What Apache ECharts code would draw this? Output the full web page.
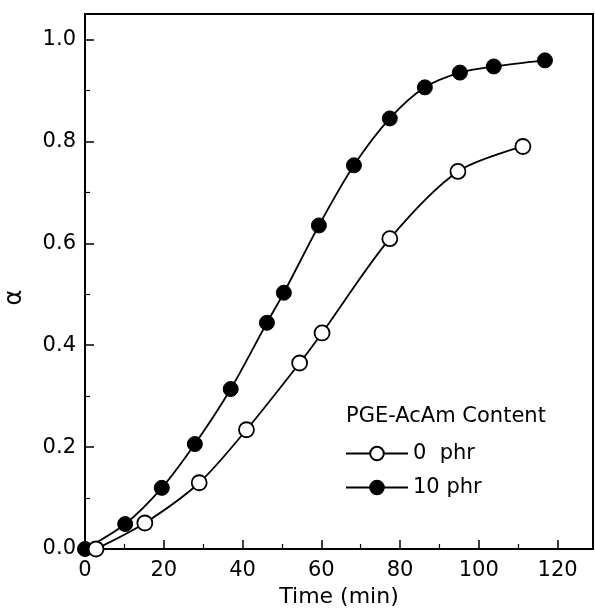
<!DOCTYPE html>
<html>
<head>
<meta charset="utf-8">
<script src="https://cdn.jsdelivr.net/npm/echarts@6/dist/echarts.min.js"></script>
<style>html,body{margin:0;padding:0;background:#fff}#c{width:595px;height:614px}</style>
</head>
<body>
<div id="c"></div>
<script>
// Data
const seriesNames = ['0  phr', '10 phr'];
const time0 = [2.8, 15.2, 29, 41, 54.5, 60.2, 77.4, 94.7, 111.2];
const alpha0 = [0.0, 0.051, 0.13, 0.234, 0.365, 0.424, 0.609, 0.741, 0.79];
const time10 = [0, 10.2, 19.5, 27.9, 37, 46.2, 50.5, 59.4, 68.3, 77.4, 86.3, 95.2, 103.8, 116.8];
const alpha10 = [0, 0.049, 0.12, 0.206, 0.314, 0.444, 0.503, 0.635, 0.753, 0.845, 0.906, 0.935, 0.947, 0.959];
const xTicks = [0, 20, 40, 60, 80, 100, 120];
const yTicks = [0.0, 0.2, 0.4, 0.6, 0.8, 1.0];
const legendTitle = 'PGE-AcAm Content';

const pairs = (xs, ys) => xs.map((x, i) => [x, ys[i]]);
const FONT = 'DejaVu Sans';

const chart = echarts.init(document.getElementById('c'), null, {renderer: 'canvas'});
chart.setOption({
  backgroundColor: '#fff',
  animation: false,
  textStyle: {fontFamily: FONT, color: '#000'},
  title: {
    text: legendTitle, left: 346, top: 406, padding: 0,
    textStyle: {fontFamily: FONT, fontSize: 21, fontWeight: 'normal', color: '#000'}
  },
  legend: {
    data: seriesNames, orient: 'vertical', left: 345, top: 443,
    itemWidth: 62, itemHeight: 17, itemGap: 13, padding: 0,
    textStyle: {fontFamily: FONT, fontSize: 21, color: '#000', padding: [0, 0, 0, 0]}
  },
  grid: {
    left: 85, right: 2, top: 14, bottom: 65, outerBoundsMode: 'none', containLabel: false,
    show: true, borderColor: '#000', borderWidth: 2, backgroundColor: 'transparent'
  },
  xAxis: {
    type: 'value', min: 0, max: 129, interval: 20,
    name: 'Time (min)', nameLocation: 'middle', nameGap: 35,
    nameTextStyle: {fontFamily: FONT, fontSize: 22, color: '#000'},
    axisLine: {show: true, lineStyle: {color: '#000', width: 2}},
    axisTick: {show: true, inside: true, length: 9, lineStyle: {color: '#000', width: 1.5}},
    minorTick: {show: true, splitNumber: 2, length: 5, lineStyle: {color: '#000', width: 1.2}},
    axisLabel: {
      fontFamily: FONT, fontSize: 21, color: '#000', margin: 11, showMaxLabel: false,
      formatter: v => xTicks.includes(v) ? String(v) : ''
    },
    splitLine: {show: false}
  },
  yAxis: {
    type: 'value', min: 0, max: 1.05, interval: 0.2,
    name: 'α', nameLocation: 'middle', nameGap: 58, nameRotate: 90,
    nameTextStyle: {fontFamily: FONT, fontSize: 24, color: '#000', padding: [0, 32, 0, 0]},
    axisLine: {show: true, lineStyle: {color: '#000', width: 2}},
    axisTick: {show: true, inside: true, length: 9, lineStyle: {color: '#000', width: 1.5}},
    minorTick: {show: true, splitNumber: 2, length: 5, lineStyle: {color: '#000', width: 1.2}},
    axisLabel: {
      fontFamily: FONT, fontSize: 21, color: '#000', margin: 9, showMaxLabel: false,
      formatter: v => yTicks.some(t => Math.abs(t - v) < 1e-6) ? v.toFixed(1) : ''
    },
    splitLine: {show: false}
  },
  series: [
    {
      name: seriesNames[1], type: 'line', data: pairs(time10, alpha10),
      smooth: 0.3,
      symbol: 'circle', symbolSize: 15, z: 2,
      lineStyle: {color: '#000', width: 1.8},
      itemStyle: {color: '#000', borderColor: '#000', borderWidth: 1}
    },
    {
      name: seriesNames[0], type: 'line', data: pairs(time0, alpha0),
      smooth: 0.3,
      symbol: 'circle', symbolSize: 15, z: 3,
      lineStyle: {color: '#000', width: 1.8},
      itemStyle: {color: '#fff', borderColor: '#000', borderWidth: 1.8}
    }
  ]
});
</script>
</body>
</html>
